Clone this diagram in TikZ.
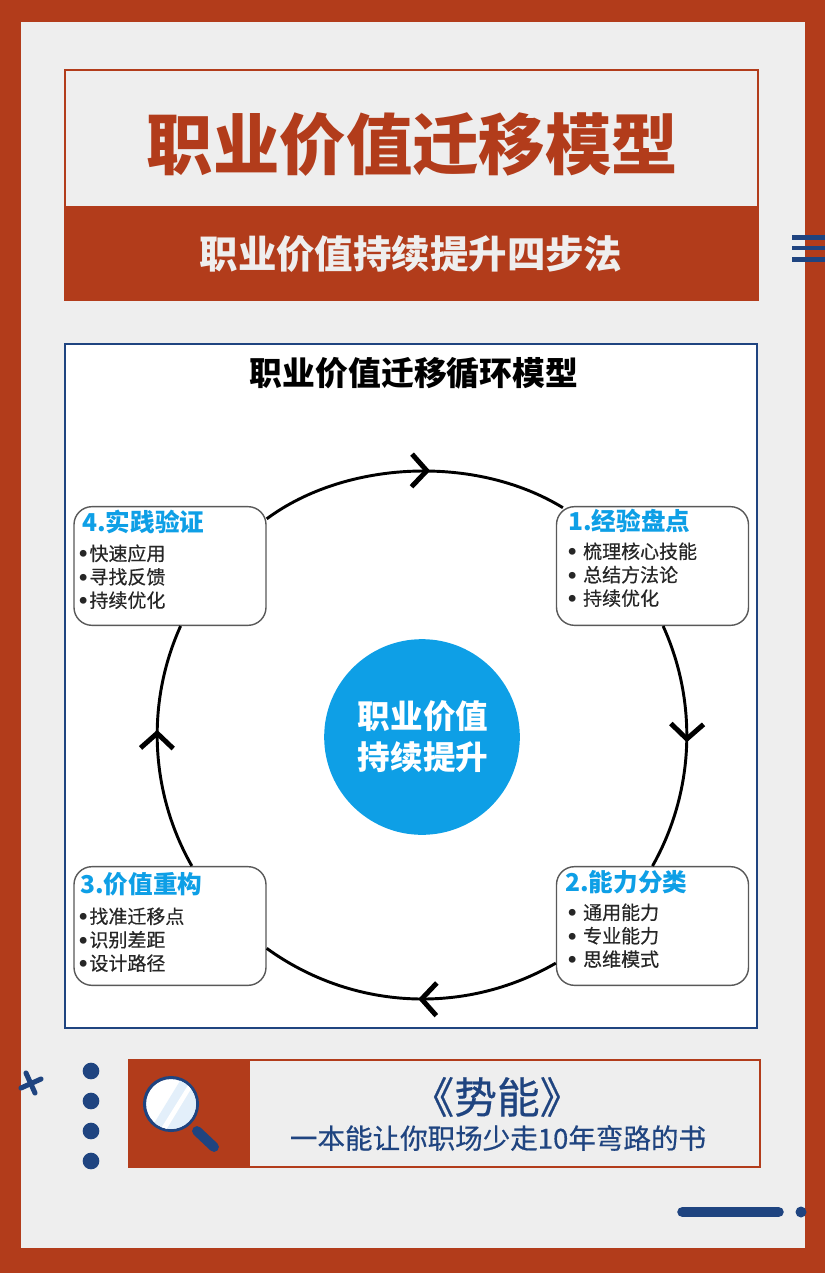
\documentclass[tikz,border=0pt]{standalone}
\usepackage{fontspec}
\setmainfont{Noto Sans CJK SC}
\newfontfamily\midfont{Noto Sans CJK SC}[FakeBold=0.5]
\newfontfamily\dotfont{DejaVu Sans}
\usetikzlibrary{arrows.meta,decorations.markings}
\definecolor{rust}{HTML}{B23C1B}
\definecolor{paper}{HTML}{EEEEEE}
\definecolor{navy}{HTML}{1F4480}
\definecolor{sky}{HTML}{0E9FE6}
\definecolor{glass}{HTML}{E3EFFA}
\newcommand{\pxfont}[1]{\fontsize{#1}{#1}\selectfont\bfseries}
\newcommand{\stepdot}{{\dotfont\fontsize{20}{20}\selectfont\hspace{-1.5pt}\raisebox{-1.8pt}{•}\hspace{-0.7pt}}}
\tikzset{x=0.03cm,y=-0.03cm,
stepbox/.style={draw=black!65,line width=1.2pt,fill=white,rounded corners=0.54cm,minimum width=5.76cm,minimum height=3.56cm},
stephead/.style={anchor=west,inner sep=0pt,text=sky,font=\pxfont{21}},
steplist/.style={anchor=west,inner sep=0pt,align=left,text=black!85,font=\midfont\fontsize{16.2}{20}\selectfont},
ringarc/.style={draw=black,line width=2.5pt,postaction=decorate,decoration={markings,mark=at position #1 with {\arrow{Straight Barb[length=0.45cm,width=0.98cm,line width=4.2pt]}}}},
navydot/.style={circle,fill=navy,minimum size=0.5cm,inner sep=0pt},
navyline/.style={navy,line cap=round}}
\begin{document}
\begin{tikzpicture}
\useasboundingbox (0,0) rectangle (825,1273);
% frame
\fill[rust] (0,0) rectangle (825,1273);
\fill[paper] (21,22) rectangle (805,1248);
% header
\draw[rust,line width=1.6pt,fill=paper] (65,70) rectangle (758,207);
\fill[rust] (64,207) rectangle (759,301);
\node[inner sep=0pt,text=rust,font=\pxfont{56.7}] (title) at (412.5,144) {职业价值迁移模型};
\node[inner sep=0pt,text=paper,font=\pxfont{32.8}] (subtitle) at (411,254) {职业价值持续提升四步法};
% panel
\draw[navy,line width=2.4pt,fill=white] (65,344) rectangle (757,1028);
\node[inner sep=0pt,text=black,font=\pxfont{28}] (paneltitle) at (414,373) {职业价值迁移循环模型};
\node[circle,fill=sky,minimum size=5.87cm,inner sep=0pt] (hub) at (422,737) {};
\node[inner sep=0pt,align=center,text=white,font=\fontsize{27.8}{35}\selectfont\bfseries] (hubtext) at (423,737) {职业价值\\持续提升};
% steps
\node[stepbox] (step1) at (652.5,566) {};
\node[stepbox] (step2) at (652.5,926) {};
\node[stepbox] (step3) at (170,926) {};
\node[stepbox] (step4) at (170,566) {};
\node[stephead] (head1) at (568,521) {1.经验盘点};
\node[stephead] (head2) at (565,882) {2.能力分类};
\node[stephead] (head3) at (80,884) {3.价值重构};
\node[stephead] (head4) at (82,522) {4.实践验证};
\node[steplist] (list1) at (567,575) {\stepdot\hspace{4pt}梳理核心技能\\\stepdot\hspace{4pt}总结方法论\\\stepdot\hspace{4pt}持续优化};
\node[steplist] (list2) at (567,936) {\stepdot\hspace{4pt}通用能力\\\stepdot\hspace{4pt}专业能力\\\stepdot\hspace{4pt}思维模式};
\node[steplist] (list3) at (78,940) {\stepdot 找准迁移点\\\stepdot 识别差距\\\stepdot 设计路径};
\node[steplist] (list4) at (78,577) {\stepdot 快速应用\\\stepdot 寻找反馈\\\stepdot 持续优化};
% ring
\draw[ringarc=0.56,shorten >=-0.1cm] (step4.26) to[bend left=34,looseness=0.86] (step1.147);
\draw[ringarc=0.48] (step1.-80) to[bend left=27,looseness=0.9] (step2.north);
\draw[ringarc=0.47] (step2.201) to[bend left=33,looseness=0.93] (step3.-13);
\draw[ringarc=0.57] (step3.70) to[bend left=27,looseness=0.9] (step4.-80);
% book strip
\draw[rust,line width=1.6pt,fill=paper] (129,1060) rectangle (760,1167);
\fill[rust] (128,1059) rectangle (250,1168);
\node[inner sep=0pt,text=navy,font=\midfont\fontsize{36.5}{36}\selectfont] (book) at (497,1097) {《势能》};
\node[inner sep=0pt,text=navy,font=\midfont\fontsize{23.5}{24}\selectfont] (slogan) at (498,1138) {一本能让你职场少走10年弯路的书};
% magnifier
\draw[navyline,line width=8.4pt] (197,1131) -- (214,1147);
\draw[navy,line width=2.6pt,fill=white] (171,1104) circle (26.5);
\begin{scope}
\clip (171,1104) circle (25);
\fill[glass] (150,1130) -- (183,1076) -- (200,1076) -- (200,1135) -- cycle;
\fill[white] (160,1130) -- (190,1082) -- (194,1084) -- (166,1130) -- cycle;
\end{scope}
% dots
\foreach \i/\y in {1/1071,2/1101,3/1131,4/1161}
  \node[navydot] (dot\i) at (91,\y) {};
\draw[navyline,line width=4.3pt] (21,1088) -- (41,1079);
\draw[navyline,line width=4.3pt] (26,1073) -- (35,1093);
% bars
\foreach \y in {237.5,248,259.5}
  \draw[navy,line width=4.2pt] (792,\y) -- (825,\y);
\draw[navyline,line width=9pt] (682.5,1212) -- (778.5,1212);
\fill[navy] (801,1212) circle (5.5);
\end{tikzpicture}
\end{document}
